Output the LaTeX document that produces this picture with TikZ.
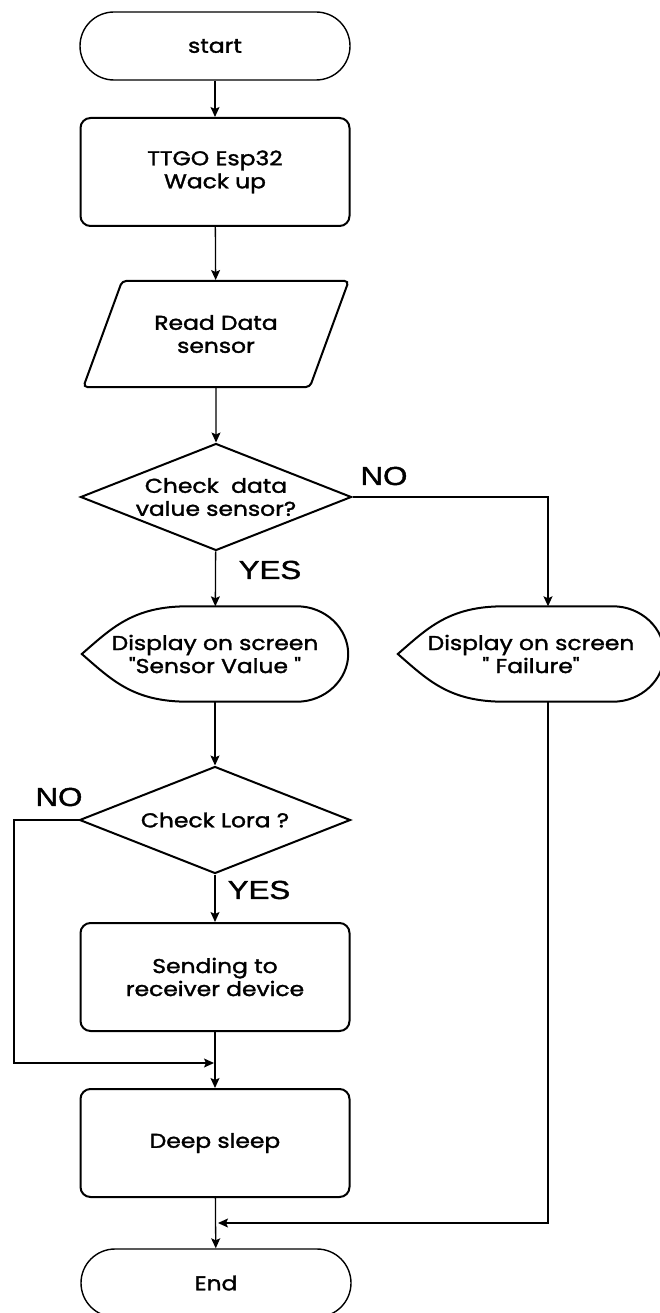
\documentclass[tikz,border=0pt]{standalone}
\usepackage{fontspec}
\setmainfont{Poppins}[Ligatures=TeXOff, FakeBold=1.6, FakeStretch=1.17]
\newfontfamily\lblfont[FakeStretch=1.2, FakeBold=1.5]{Liberation Sans}
\usetikzlibrary{shapes.geometric,arrows.meta}

\tikzset{
  txt/.style={align=center, font=\fontsize{20}{23}\selectfont},
  box/.style={txt, draw, line width=2pt},
  terminal/.style={box, line width=1.4pt, rounded corners=34pt, minimum width=270pt, minimum height=68pt},
  process/.style={box, rounded corners=10pt, minimum width=269pt, minimum height=108pt},
  io/.style={box, trapezium, trapezium left angle=59, trapezium right angle=121,
    trapezium stretches=true, rounded corners=4pt, minimum width=266pt, minimum height=106pt},
  decision/.style={draw, line width=2pt, diamond, inner sep=0pt, minimum width=271pt, minimum height=107pt},
  disp/.style={txt, inner sep=0pt, minimum width=266pt, minimum height=95pt},
  flow/.style={line width=1.3pt, -{Stealth[length=10pt,width=9pt,inset=2pt]}},
  yn/.style={font=\lblfont\fontsize{26}{26}\selectfont, inner sep=0pt}
}
% outline of a display symbol round a named node
\newcommand{\dispoutline}[1]{%
  \draw[line width=2pt] (#1.west) .. controls +(30,-26) and +(-55,0) .. ([xshift=-27pt]#1.north)
    -- ([xshift=82pt]#1.north) .. controls +(28,0) and +(0,-26) .. (#1.east)
    .. controls +(0,26) and +(28,0) .. ([xshift=82pt]#1.south)
    -- ([xshift=-27pt]#1.south) .. controls +(-55,0) and +(30,26) .. (#1.west) -- cycle;}

\begin{document}
\begin{tikzpicture}[x=1pt,y=-1pt]
  \useasboundingbox (0,0) rectangle (659,1313);

  % main column
  \node[terminal] (start) at (215,46) {start};
  \node[process] (wake) at (215,172) {TTGO Esp32\\Wack up};
  \node[io] (read) at (216,334) {Read Data\\sensor};
  \node[decision] (chk1) at (216,497) {};
  \node[txt] (chk1txt) at (216,497) {Check~ data\\value sensor?};
  \node[disp] (sv) at (215,654) {Display on screen\\"Sensor Value "};
  \node[disp] (fail) at (531,654) {Display on screen\\" Failure"};
  \dispoutline{sv}
  \dispoutline{fail}
  \node[decision] (chk2) at (215,820) {};
  \node[txt] (chk2txt) at (215,820) {Check Lora ?};
  \node[process] (send) at (215,977) {Sending to\\receiver device};
  \node[process] (sleep) at (215,1143) {Deep sleep};
  \node[terminal] (stop) at (216,1283) {End};

  \coordinate (nol) at (14,820);
  \coordinate (j1) at (214,1063);
  \coordinate (j2) at (218,1223);

  % connectors
  \draw[flow] (start) -- (wake);
  \draw[flow] (wake) -- (read);
  \draw[flow] (read) -- (chk1);
  \draw[flow] (chk1) -- (sv);
  \draw[flow] (chk1.east) -| ([xshift=17pt]fail.north);
  \draw[flow] (sv) -- (chk2);
  \draw[flow] (chk2) -- (send);
  \draw[flow] (send) -- (sleep);
  \draw[flow] (sleep) -- (stop);
  \draw[flow] (chk2.west) -- (nol) |- (j1);
  \draw[flow] ([xshift=17pt]fail.south) |- (j2);

  % branch labels
  \node[yn] (no1) at (384,476) {NO};
  \node[yn] (yes1) at (270,570) {YES};
  \node[yn] (no2) at (59,797) {NO};
  \node[yn] (yes2) at (259,890) {YES};
\end{tikzpicture}
\end{document}
